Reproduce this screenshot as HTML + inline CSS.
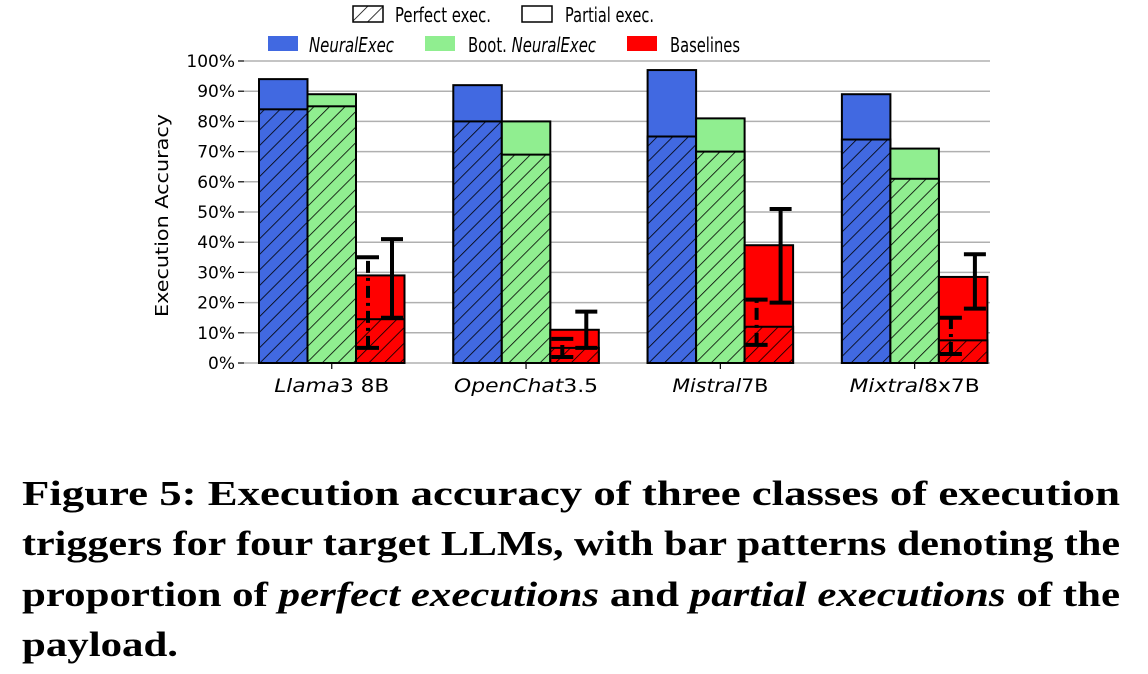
<!DOCTYPE html>
<html><head><meta charset="utf-8"><style>body{margin:0;background:#fff}svg{display:block}</style></head>
<body>
<svg id="chart" width="1148" height="674" xmlns="http://www.w3.org/2000/svg">
<defs>
<pattern id="hatch" patternUnits="userSpaceOnUse" width="11" height="11" patternTransform="rotate(45)">
<line x1="0" y1="0" x2="0" y2="11" stroke="#000" stroke-width="1.6"/>
</pattern>
</defs>
<g id="grid"></g>
<g id="bars"></g>
<g id="errs"></g>
<g id="axes" font-family="DejaVu Sans, sans-serif"></g>
<g font-family="DejaVu Sans, sans-serif" font-size="20">
 <rect x="353" y="6" width="30" height="16" fill="url(#hatch)" stroke="#000" stroke-width="1.5"/>
 <text x="395" y="22" textLength="96" lengthAdjust="spacingAndGlyphs">Perfect exec.</text>
 <rect x="522" y="6" width="30" height="16" fill="#fff" stroke="#000" stroke-width="1.5"/>
 <text x="565" y="22" textLength="89" lengthAdjust="spacingAndGlyphs">Partial exec.</text>
 <rect x="268" y="36" width="30" height="15" fill="#4169e1"/>
 <text x="309" y="52" font-style="italic" textLength="85" lengthAdjust="spacingAndGlyphs">NeuralExec</text>
 <rect x="425" y="36" width="30" height="15" fill="#90ee90"/>
 <text x="468" y="52" textLength="128" lengthAdjust="spacingAndGlyphs">Boot. <tspan font-style="italic">NeuralExec</tspan></text>
 <rect x="627" y="36" width="30" height="15" fill="#ff0000"/>
 <text x="670" y="52" textLength="70" lengthAdjust="spacingAndGlyphs">Baselines</text>
</g>
<g font-family="Liberation Serif, serif" font-weight="bold" font-size="35">
 <text x="22" y="505" textLength="1098" lengthAdjust="spacingAndGlyphs">Figure 5: Execution accuracy of three classes of execution</text>
 <text x="22" y="555" textLength="1098" lengthAdjust="spacingAndGlyphs">triggers for four target LLMs, with bar patterns denoting the</text>
 <text x="22" y="606" textLength="1098" lengthAdjust="spacingAndGlyphs">proportion of <tspan font-style="italic">perfect executions</tspan> and <tspan font-style="italic">partial executions</tspan> of the</text>
 <text x="22" y="656" textLength="156" lengthAdjust="spacingAndGlyphs">payload.</text>
</g>
</svg>
<script>
const categories=["Llama3 8B","OpenChat3.5","Mistral7B","Mixtral8x7B"];
const catItalic=[["Llama","3 8B"],["OpenChat","3.5"],["Mistral","7B"],["Mixtral","8x7B"]];
const neuralTotal=[94,92,97,89];
const neuralPerfect=[84,80,75,74];
const bootTotal=[89,80,81,71];
const bootPerfect=[85,69,70,61];
const baseTotal=[29,11,39,28.5];
const basePerfect=[14.5,5,12,7.5];
const basePerfectErrLo=[5,2,6,3];
const basePerfectErrHi=[35,8,21,15];
const baseTotalErrLo=[15,5,20,18];
const baseTotalErrHi=[41,17,51,36];
const yTicks=[0,10,20,30,40,50,60,70,80,90,100];
const NS="http://www.w3.org/2000/svg";
const x0=244,x1=990,yBase=363,yTop=61;
const y=v=>yBase-(v/100)*(yBase-yTop);
const bw=48.5;
const groupStart=i=>259+i*194.3;
const labelWidths=[115,144,96,130];
function el(tag,attrs,parent){const e=document.createElementNS(NS,tag);for(const k in attrs)e.setAttribute(k,attrs[k]);parent.appendChild(e);return e;}
const grid=document.getElementById('grid'),bars=document.getElementById('bars'),errs=document.getElementById('errs'),axes=document.getElementById('axes');
yTicks.forEach(t=>{
 const g=el('line',{x1:x0,x2:x1,y1:y(t),y2:y(t),stroke:'#b0b0b0','stroke-width':1.5},grid);
 
 
 const tk=el('line',{x1:x0-6,x2:x0,y1:y(t),y2:y(t),stroke:'#000','stroke-width':1.2},axes);
 
 
 const tx=el('text',{x:x0-9,y:y(t)+6,'text-anchor':'end','font-size':17},axes);
 tx.textContent=t+'%';
 
 
});
const yl=el('text',{x:-101,y:0,'font-size':18,textLength:203,lengthAdjust:'spacingAndGlyphs',transform:'translate(168,216) rotate(-90)'},axes);
yl.textContent='Execution Accuracy';


const series=[["neuralexec","#4169e1",neuralTotal,neuralPerfect],["boot-neuralexec","#90ee90",bootTotal,bootPerfect],["baselines","#ff0000",baseTotal,basePerfect]];
categories.forEach((c,i)=>{
 series.forEach((s,j)=>{
  const bx=groupStart(i)+j*bw;
  const tot=s[2][i],per=s[3][i];
  const r=el('rect',{x:bx,y:y(tot),width:bw,height:y(0)-y(tot),fill:s[1],stroke:'#000','stroke-width':2},bars);
  
  
  const p=el('rect',{x:bx,y:y(per),width:bw,height:y(0)-y(per),fill:s[1],stroke:'#000','stroke-width':2},bars);
  
  
  const h=el('rect',{x:bx,y:y(per),width:bw,height:y(0)-y(per),fill:'url(#hatch)'},bars);
  
  
 });
 const rx=groupStart(i)+2*bw;
 const dx=rx+12;
 const dg=el('g',{stroke:'#000','stroke-width':4},errs);
 
 
 el('line',{x1:dx,x2:dx,y1:y(basePerfectErrLo[i]),y2:y(basePerfectErrHi[i]),'stroke-dasharray':'12 5 3 5'},dg);
 el('line',{x1:dx-11,x2:dx+11,y1:y(basePerfectErrLo[i]),y2:y(basePerfectErrLo[i])},dg);
 el('line',{x1:dx-11,x2:dx+11,y1:y(basePerfectErrHi[i]),y2:y(basePerfectErrHi[i])},dg);
 const sx=rx+36;
 const sg=el('g',{stroke:'#000','stroke-width':4},errs);
 
 
 el('line',{x1:sx,x2:sx,y1:y(baseTotalErrLo[i]),y2:y(baseTotalErrHi[i])},sg);
 el('line',{x1:sx-11,x2:sx+11,y1:y(baseTotalErrLo[i]),y2:y(baseTotalErrLo[i])},sg);
 el('line',{x1:sx-11,x2:sx+11,y1:y(baseTotalErrHi[i]),y2:y(baseTotalErrHi[i])},sg);
 const cx=groupStart(i)+1.5*bw;
 const tk=el('line',{x1:cx,x2:cx,y1:yBase,y2:yBase+6,stroke:'#000','stroke-width':1.2},axes);
 
 
 const tx=el('text',{x:cx-labelWidths[i]/2,y:yBase+29,'font-size':19,textLength:labelWidths[i],lengthAdjust:'spacingAndGlyphs'},axes);
 const t1=el('tspan',{'font-style':'italic'},tx);t1.textContent=catItalic[i][0];
 const t2=el('tspan',{},tx);t2.textContent=catItalic[i][1];
 
 
});
</script>
</body></html>
